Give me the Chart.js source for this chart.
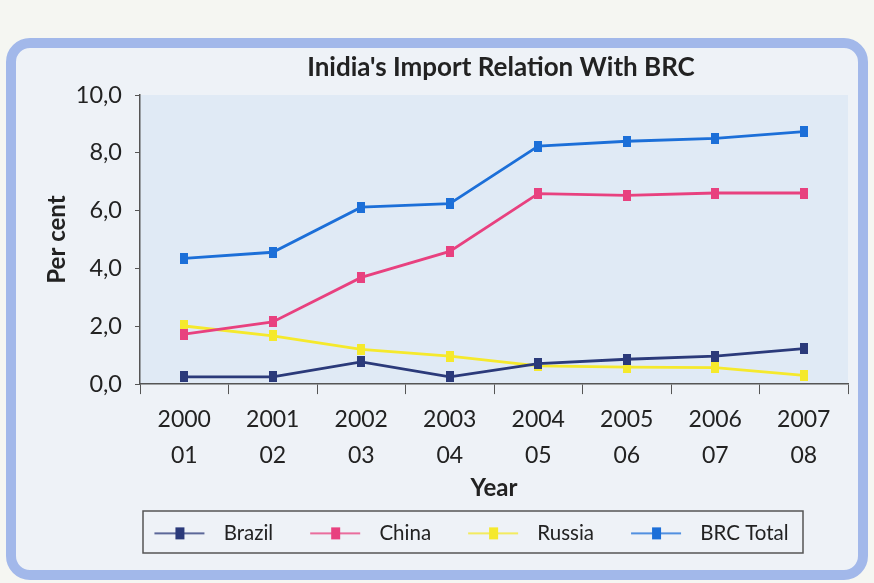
<!DOCTYPE html>
<html>
<head>
<meta charset="utf-8">
<script src="https://cdn.jsdelivr.net/npm/chart.js@4.4.0/dist/chart.umd.min.js"></script>
<style>
body{margin:0;background:#f5f6f2;}
#box{position:absolute;left:6px;top:38px;width:842px;height:522px;border:10px solid #a2b8ea;border-radius:24px;background:#eef2f7;}
#wrap{position:absolute;left:0;top:0;width:874px;height:583px;}
</style>
</head>
<body>
<div id="box"></div>
<div id="wrap"><canvas id="c" width="874" height="583"></canvas></div>
<script>
// donnees
const years = [['2000','01'],['2001','02'],['2002','03'],['2003','04'],['2004','05'],['2005','06'],['2006','07'],['2007','08']]
const brazil = [0.25,0.25,0.77,0.25,0.71,0.86,0.97,1.23]
const china = [1.73,2.15,3.69,4.59,6.59,6.53,6.61,6.61]
const russia = [2.01,1.67,1.20,0.97,0.63,0.59,0.57,0.30]
const brcTotal = [4.35,4.56,6.12,6.24,8.23,8.40,8.50,8.73]
const yTicks = [0,2,4,6,8,10]

const colors = ['#2b3a7a','#e8417f','#f5e92c','#1c6fd8']
const FONT = 'Lato, "Open Sans", sans-serif'

function marker(color){
  const c = document.createElement('canvas')
  c.width = 8; c.height = 11
  const g = c.getContext('2d')
  g.fillStyle = color
  g.fillRect(0,0,8,11)
  return c
}
// icone de legende : un blanc de 21px puis le trait avec le carre
function legendIcon(color){
  const c = document.createElement('canvas')
  c.width = 80; c.height = 14
  const g = c.getContext('2d')
  g.strokeStyle = color
  g.lineWidth = 1.5
  g.beginPath(); g.moveTo(21,7); g.lineTo(71,7); g.stroke()
  g.fillStyle = color
  g.fillRect(42,1,9,12)
  return c
}

function serie(label, values, i){
  return {
    label: label,
    data: values,
    borderColor: colors[i],
    backgroundColor: colors[i],
    borderWidth: 2.8,
    pointStyle: marker(colors[i]),
    tension: 0
  }
}

const plotBg = {
  id: 'plotBg',
  beforeDraw(chart){
    const a = chart.chartArea, ctx = chart.ctx
    ctx.save()
    ctx.fillStyle = '#e0eaf5'
    ctx.fillRect(a.left, a.top, a.right - a.left, a.bottom - a.top)
    ctx.restore()
  },
  afterLayout(chart){
    chart.legend.left += 22
    chart.legend.right += 22
    chart.titleBlock.left += 7
    chart.titleBlock.right += 7
  },
  afterDraw(chart){
    const ctx = chart.ctx
    ctx.save()
    ctx.strokeStyle = '#555'
    ctx.lineWidth = 1.5
    ctx.strokeRect(143, 511, 660, 42)
    ctx.restore()
  }
}

const myChart = new Chart(document.getElementById('c'), {
  type: 'line',
  data: {
    labels: years,
    datasets: [
      serie('Brazil', brazil, 0),
      serie('China', china, 1),
      serie('Russia', russia, 2),
      serie('BRC Total', brcTotal, 3)
    ]
  },
  options: {
    responsive: false,
    animation: false,
    layout: { padding: { left: 30, right: 26, top: 41, bottom: 29.4 } },
    plugins: {
      title: {
        display: true,
        text: "Inidia's Import Relation With BRC",
        fullSize: false,
        color: '#222',
        font: { family: FONT, size: 26, weight: 'bold' },
        padding: 11.4
      },
      legend: {
        position: 'bottom',
        labels: {
          usePointStyle: true,
          pointStyleWidth: 80,
          padding: 16,
          color: '#222',
          font: { family: FONT, size: 20.5 },
          generateLabels(chart){
            const items = Chart.defaults.plugins.legend.labels.generateLabels(chart)
            items.forEach((it, i) => { it.pointStyle = legendIcon(colors[i]) })
            return items
          }
        }
      },
      tooltip: { enabled: false }
    },
    scales: {
      x: {
        offset: true,
        grid: { offset: true, drawOnChartArea: false, tickLength: 10, color: '#555' },
        border: { color: '#555', width: 1.5 },
        ticks: { color: '#222', padding: 7, font: { family: FONT, size: 23, lineHeight: 1.565 } },
        title: { display: true, text: 'Year', color: '#222', padding: 4, font: { family: FONT, size: 24, weight: 'bold' } },
        afterFit(scale){ scale.height = 123 }
      },
      y: {
        min: 0,
        max: 10,
        afterBuildTicks(scale){ scale.ticks = yTicks.map(v => ({ value: v })) },
        grid: { drawOnChartArea: false, tickLength: 5, color: '#555' },
        border: { color: '#555', width: 1.5 },
        ticks: {
          color: '#222',
          padding: 13,
          font: { family: FONT, size: 23.5 },
          callback: v => v.toFixed(1).replace('.', ',')
        },
        title: { display: true, text: 'Per cent', color: '#222', padding: 13, font: { family: FONT, size: 24, weight: 'bold' } },
        afterFit(scale){ scale.width = 110 }
      }
    }
  },
  plugins: [plotBg]
})
</script>
</body>
</html>
